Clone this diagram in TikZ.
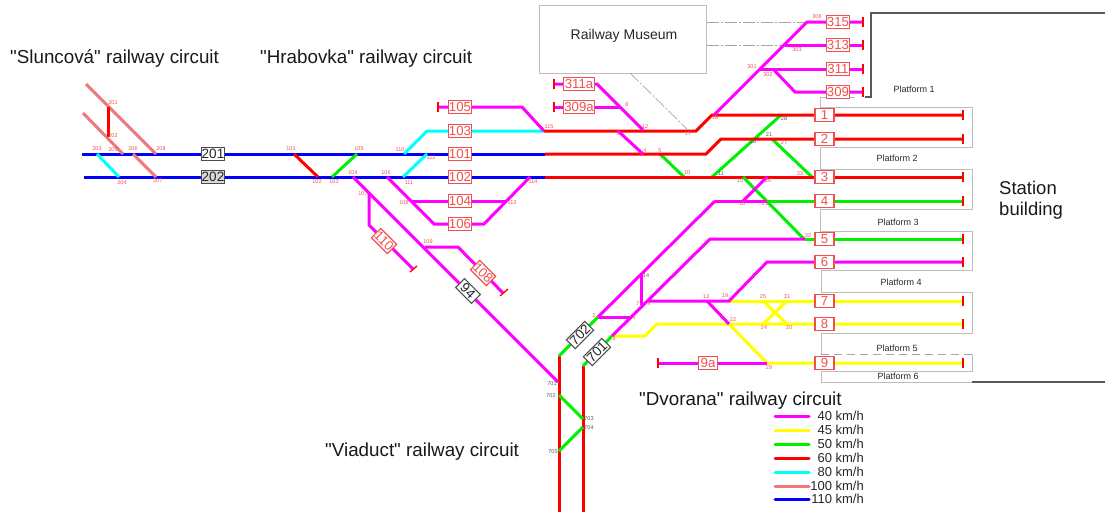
\documentclass[tikz,border=0pt]{standalone}
\usepackage{fontspec}
\setmainfont{Liberation Sans}[Ligatures=TeXOff]
\definecolor{tk40}{HTML}{FF00FF}
\definecolor{tk45}{HTML}{FFFF00}
\definecolor{tk50}{HTML}{00F000}
\definecolor{tk60}{HTML}{FF0000}
\definecolor{tk80}{HTML}{00FFFF}
\definecolor{tk100}{HTML}{F07878}
\definecolor{tk110}{HTML}{0000FF}
\definecolor{lblred}{HTML}{F25050}
\definecolor{platgray}{HTML}{BDBDBD}
\tikzset{
 track/.style={line width=3pt,line join=miter},
 v40/.style={track,draw=tk40},
 v45/.style={track,draw=tk45},
 v50/.style={track,draw=tk50},
 v60/.style={track,draw=tk60},
 v80/.style={track,draw=tk80},
 v100/.style={track,draw=tk100},
 v110/.style={track,draw=tk110},
 bumper/.style={draw=tk60,line width=1.3pt},
 tno/.style={draw=lblred,line width=1.2pt,fill=white,text=lblred,font=\fontsize{13.2}{13}\selectfont,inner sep=0pt,minimum height=13pt},
 tw3/.style={tno,minimum width=22.5pt},
 tw4/.style={tno,minimum width=31pt},
 tw1/.style={tno,minimum width=19pt},
 tblk/.style={draw=black!70,line width=1pt,fill=white,text=black!85,font=\fontsize{13.5}{13}\selectfont,inner sep=0pt,minimum height=12.5pt,minimum width=22.5pt},
 jn/.style={text=lblred,font=\fontsize{5.5}{6}\selectfont,inner sep=0pt},
 jg/.style={text=black!65,font=\fontsize{5.5}{6}\selectfont,inner sep=0pt},
 circuit/.style={text=black!90,font=\fontsize{18.8}{20}\selectfont,inner sep=0pt,anchor=west},
 plat/.style={text=black!85,font=\fontsize{9}{10}\selectfont,inner sep=0pt},
 wall/.style={draw=platgray,line width=1pt},
 dashdot/.style={draw=black!35,line width=.7pt,dash pattern=on 12pt off 2pt on 2pt off 2pt},
 legtxt/.style={text=black!85,font=\fontsize{13}{13}\selectfont,inner sep=0pt,anchor=east},
}
\begin{document}
\begin{tikzpicture}[x=1pt,y=-1pt]
\useasboundingbox (0,0) rectangle (1105,512);
% building and platforms
\draw[draw=black!65,line width=1.2pt] (865,97) -- (871,97) -- (871,13) -- (1105,13);
\draw[draw=black!65,line width=1.2pt] (972,382) -- (1105,382);
\draw[wall] (855,97) -- (820,97) -- (820,107) -- (972,107) -- (972,147) -- (820,147) -- (820,169) -- (972,169) -- (972,209) -- (820,209) -- (820,231) -- (972,231) -- (972,270) -- (821,270) -- (821,292) -- (972,292) -- (972,333) -- (821,333) -- (821,354);
\draw[wall] (972,354) -- (972,371) -- (821,371) -- (821,382) -- (972,382);
\draw[draw=black!35,line width=.8pt,dash pattern=on 8pt off 5pt] (821,354) -- (972,354);
\node[plat] (p1) at (914,89) {Platform 1};
\node[plat] (p2) at (897,158) {Platform 2};
\node[plat] (p3) at (898,222) {Platform 3};
\node[plat] (p4) at (901,282) {Platform 4};
\node[plat] (p5) at (897,348) {Platform 5};
\node[plat] (p6) at (898,376) {Platform 6};
\node[text=black!90,font=\fontsize{18.5}{21}\selectfont,align=left,anchor=west,inner sep=0pt] (station) at (999,200.5) {Station\\building};
% museum
\node[draw=platgray,line width=1pt,fill=white,minimum width=167pt,minimum height=68pt,inner sep=0pt] (museum) at (622.5,39) {};
\node[font=\fontsize{14}{14}\selectfont,text=black!85,inner sep=0pt] (museumtxt) at (624,36) {Railway Museum};
\draw[dashdot] (museum.east |- 0,22) -- (807,22);
\draw[dashdot] (museum.east |- 0,45) -- (785,45);
\draw[dashdot] (630,73) -- (687,129);
% slow and crossing tracks under the main lines
\draw[v50] (781,115) -- (712,177);
\draw[v50] (772,139) -- (812,177);
\draw[v50] (660,154) -- (684,177);
% 110 km/h
\draw[v110] (82,154) -- (545,154);
\draw[v110] (84,177) -- (545,177);
% 100 km/h
\draw[v100] (86,84) -- (156,154);
\draw[v100] (83,113) -- (123,154);
\draw[v100] (133,154) -- (156,177);
% 60 km/h
\draw[v60] (108,107) -- (108,137);
\draw[v60] (294,154) -- (318,177);
\draw[v60] (544,131) -- (696,131) -- (712,115) -- (963,115);
\draw[v60] (545,154) -- (706,154) -- (721,139) -- (963,139);
\draw[v60] (545,177) -- (963,177);
\draw[v60] (559,356) -- (559,512);
\draw[v60] (583,366) -- (583,512);
% 80 km/h
\draw[v80] (97,154) -- (119,177);
\draw[v80] (404,154) -- (427,131) -- (544,131);
\draw[v80] (403,177) -- (427,154);
% 50 km/h
\draw[v50] (332,177) -- (357,154);
\draw[v50] (767,201) -- (963,201);
\draw[v50] (805,239) -- (963,239);
\draw[v50] (743,177) -- (804,239);
\draw[v50] (598,317) -- (559,356);
\draw[v50] (583,366) -- (612,336);
\draw[v50] (559,395) -- (583,419);
\draw[v50] (583,427) -- (559,451);
% 45 km/h
\draw[v45] (612,336) -- (645,336) -- (657,324) -- (963,324);
\draw[v45] (729,301) -- (963,301);
\draw[v45] (729,324) -- (767,363) -- (963,363);
\draw[v45] (763,301) -- (787,324);
\draw[v45] (787,301) -- (763,324);
% 40 km/h
\draw[v40] (353,177) -- (558,382);
\draw[v40] (369,193) -- (369,225) -- (413,269);
\draw[v40] (425,247) -- (458,247) -- (503,293);
\draw[v40] (387,177) -- (434,224) -- (484,224) -- (530,177);
\draw[v40] (412,201) -- (507,201);
\draw[v40] (438,107) -- (522,107) -- (544,131);
\draw[v40] (554,84) -- (597,84) -- (643,130);
\draw[v40] (554,107) -- (620,107);
\draw[v40] (618,131) -- (643,154);
\draw[v40] (714,115) -- (807,22) -- (863,22);
\draw[v40] (785,45) -- (863,45);
\draw[v40] (760,69) -- (863,69);
\draw[v40] (773,69) -- (795,92) -- (863,92);
\draw[v40] (715,201) -- (767,201);
\draw[v40] (598,317) -- (715,201);
\draw[v40] (743,201) -- (767,177);
\draw[v40] (612,336) -- (710,239) -- (805,239);
\draw[v40] (641,275) -- (641,305);
\draw[v40] (598,317) -- (632,317);
\draw[v40] (647,301) -- (729,301) -- (767,262) -- (963,262);
\draw[v40] (707,301) -- (729,324);
\draw[v40] (658,363) -- (767,363);
% bumpers
\foreach \yy in {115,139,177,201,239,262,301,324,363} \draw[bumper] (963,\yy-5) -- (963,\yy+5);
\foreach \yy in {22,45,69,92} \draw[bumper] (863,\yy-5) -- (863,\yy+5);
\draw[bumper] (438,102) -- (438,112);
\draw[bumper] (554,79) -- (554,89);
\draw[bumper] (554,102) -- (554,112);
\draw[bumper] (658,358) -- (658,368);
\draw[bumper] (410,272) -- (417,266);
\draw[bumper] (500,296) -- (508,289);
% track numbers
\node[tblk,fill=white] (t201) at (213,154) {201};
\node[tblk,fill=black!15] (t202) at (213,177) {202};
\node[tw3] (t103) at (460,131) {103};
\node[tw3] (t101) at (460,154) {101};
\node[tw3] (t102) at (460,177) {102};
\node[tw3] (t105) at (460,107) {105};
\node[tw3] (t104) at (460,201) {104};
\node[tw3] (t106) at (460,224) {106};
\node[tw4] (t311a) at (579,84) {311a};
\node[tw4] (t309a) at (579,107) {309a};
\node[tw3] (t315) at (838,22) {315};
\node[tw3] (t313) at (838,45) {313};
\node[tw3] (t311) at (838,69) {311};
\node[tw3] (t309) at (838,92) {309};
\node[tw3,rotate=-45] (t110) at (384,241) {110};
\node[tw3,rotate=-45] (t108) at (483,273) {108};
\node[tblk,rotate=-45] (t94) at (468,291) {94};
\node[tblk,rotate=45,minimum width=26pt] (t702) at (580,335) {702};
\node[tblk,rotate=45,minimum width=26pt] (t701) at (597,352) {701};
\node[tw1] (t9a) at (708,363) {9a};
\foreach \nm/\yy in {1/115,2/139,3/177,4/201,5/239,6/262,7/301,8/324,9/363}
  \node[tw1] (plt\nm) at (824.5,\yy) {\nm};
% junction numbers: Sluncova and Hrabovka
\node[jn] (j201) at (113,103) {201};
\node[jn] (j202) at (113,136) {202};
\node[jn] (j203) at (97,149) {203};
\node[jn] (j205) at (113,149.5) {205};
\node[jn] (j206) at (133,149) {206};
\node[jn] (j208) at (161,149) {208};
\node[jn] (j204) at (122,183) {204};
\node[jn] (j207) at (158,181) {207};
\node[jn] (j101) at (291,149) {101};
\node[jn] (j102) at (317,182) {102};
\node[jn] (j103) at (334,182) {103};
\node[jn] (j105) at (359,149) {105};
\node[jn] (j104) at (353,173) {104};
\node[jn] (j107) at (363,194) {107};
\node[jn] (j110) at (400,150) {110};
\node[jn] (j112) at (431,158) {112};
\node[jn] (j111) at (409,183) {111};
\node[jn] (j106) at (386,173) {106};
\node[jn] (j108) at (404,203) {108};
\node[jn] (j113) at (512,203) {113};
\node[jn] (j114) at (533,182) {114};
\node[jn] (j115) at (549,127) {115};
\node[jn] (j109) at (428,242) {109};
% junction numbers: Dvorana
\node[jn] (d8) at (627,105) {8};
\node[jn] (d12) at (645,127) {12};
\node[jn] (d1) at (618,133.5) {1};
\node[jn] (d4a) at (645,151) {4};
\node[jn] (d5) at (660,151) {5};
\node[jn] (d17) at (688,134) {17};
\node[jn] (d18) at (715,118) {18};
\node[jg] (d20) at (753,142) {20};
\node[jg] (d21) at (769,135) {21};
\node[jn] (d27) at (784,143) {27};
\node[jg] (d28) at (784,119) {28};
\node[jn] (d301) at (752,67) {301};
\node[jn] (d302) at (768,75) {302};
\node[jn] (d303) at (797,50) {303};
\node[jn] (d306) at (817,17) {306};
\node[jn] (d10) at (687,173) {10};
\node[jg] (d11) at (721,174) {11};
\node[jn] (d15) at (740,181) {15};
\node[jn] (d26) at (768,181) {26};
\node[jn] (d16) at (742,204) {16};
\node[jn] (d23) at (765,204) {23};
\node[jn] (d33) at (800,174) {33};
\node[jn] (d32) at (808,236) {32};
\node[jg] (d14) at (646,276) {14};
\node[jn] (d7) at (638,304) {7};
\node[jn] (d9) at (649,304) {9};
\node[jn] (d2) at (594,316) {2};
\node[jn] (d4b) at (634,318) {4};
\node[jn] (d3) at (614,339) {3};
\node[jn] (d13) at (706,297) {13};
\node[jn] (d19) at (725,296) {19};
\node[jn] (d22) at (733,320) {22};
\node[jn] (d25) at (763,297) {25};
\node[jn] (d31) at (787,297) {31};
\node[jn] (d24) at (764,328) {24};
\node[jn] (d30) at (789,328) {30};
\node[jn] (d29) at (769,368) {29};
% junction numbers: Viaduct
\node[jg] (v701) at (552,384) {701};
\node[jg] (v702) at (551,396) {702};
\node[jg] (v703) at (589,419) {703};
\node[jg] (v704) at (589,428) {704};
\node[jg] (v705) at (553,452) {705};
% circuit titles
\node[circuit] (c1) at (10,58.5) {"Sluncová" railway circuit};
\node[circuit] (c2) at (260,58.5) {"Hrabovka" railway circuit};
\node[circuit] (c3) at (639,400.5) {"Dvorana" railway circuit};
\node[circuit] (c4) at (325,451.5) {"Viaduct" railway circuit};
% legend
\foreach \st/\yy/\tx/\nm in {v40/416/40/a,v45/430/45/b,v50/444/50/c,v60/458/60/d,v80/472/80/e,v100/486/100/f,v110/499/110/g}{
  \draw[\st,line cap=round] (775,\yy) -- (809,\yy);
  \node[legtxt] (leg\nm) at (864,\yy) {\tx{} km/h};
}
\end{tikzpicture}
\end{document}
